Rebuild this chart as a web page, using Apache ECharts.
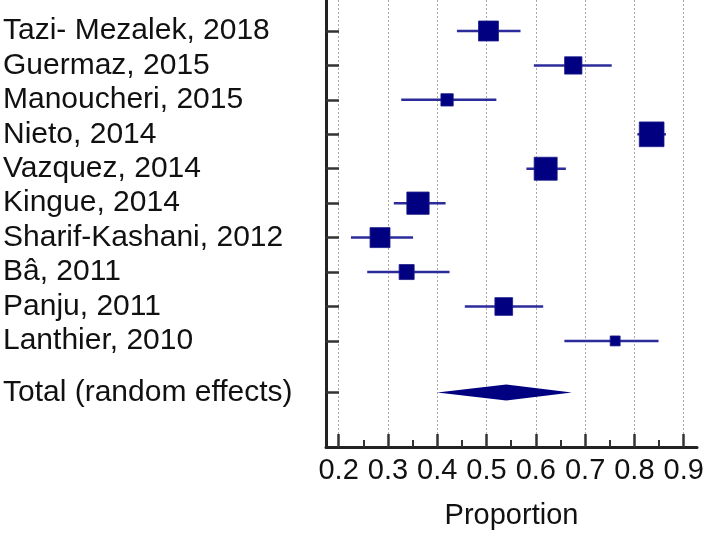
<!DOCTYPE html>
<html><head><meta charset="utf-8">
<script src="https://cdn.jsdelivr.net/npm/echarts@6/dist/echarts.min.js"></script>
<style>html,body{margin:0;padding:0;background:#fff}#c{width:709px;height:536px}</style>
</head><body><div id="c"></div>
<script>
const studies = ['Tazi- Mezalek, 2018','Guermaz, 2015','Manoucheri, 2015','Nieto, 2014','Vazquez, 2014','Kingue, 2014','Sharif-Kashani, 2012','Bâ, 2011','Panju, 2011','Lanthier, 2010'];
const proportion = [0.504, 0.676, 0.420, 0.835, 0.620, 0.361, 0.284, 0.338, 0.535, 0.761];
const ciLow  = [0.440, 0.596, 0.327, 0.806, 0.581, 0.312, 0.225, 0.258, 0.456, 0.658];
const ciHigh = [0.569, 0.754, 0.520, 0.864, 0.661, 0.417, 0.351, 0.425, 0.615, 0.849];
const weights = [11.3, 8.5, 4.3, 17.3, 15.0, 14.1, 11.3, 6.4, 8.9, 2.8];
const totalLabel = 'Total (random effects)';
const total = [0.540, 0.400, 0.673]; // estimate, low, high
const xTicks = [0.2,0.3,0.4,0.5,0.6,0.7,0.8,0.9];
const xMinorTicks = [0.25,0.35,0.45,0.55,0.65,0.75,0.85];
const xTitle = 'Proportion';

const rowPos = studies.map((s,i)=>i);
const totalPos = studies.length + 0.5;
const yLabelMap = {};
studies.forEach((s,i)=>{ yLabelMap[i] = s; });
yLabelMap[totalPos] = totalLabel;

const FONT = 'Liberation Sans, Arial, sans-serif';
const chart = echarts.init(document.getElementById('c'), null, {renderer:'canvas'});

const studyData = studies.map((s,i)=>[proportion[i], rowPos[i], ciLow[i], ciHigh[i], weights[i]]);

chart.setOption({
  animation:false,
  grid:{left:323, right:12, top:0, bottom:89, containLabel:false},
  xAxis:[{
    type:'value', min:0.1744, max:0.927, position:'bottom', z:10,
    name:xTitle, nameLocation:'middle', nameGap:54,
    nameTextStyle:{fontFamily:FONT, fontSize:29, color:'#111'},
    axisLine:{show:true, onZero:false, lineStyle:{color:'#222', width:3}},
    axisTick:{show:true, inside:true, length:13, customValues:xTicks, lineStyle:{color:'#333', width:2.5}},
    axisLabel:{show:true, customValues:xTicks, formatter:v=>Number(v).toFixed(1), margin:9, fontFamily:FONT, fontSize:29, color:'#111'},
    splitLine:{show:false}
  },{
    type:'value', min:0.1744, max:0.927, position:'bottom', z:10,
    axisLine:{show:false, onZero:false},
    axisTick:{show:true, inside:true, length:7, customValues:xMinorTicks, lineStyle:{color:'#333', width:2}},
    axisLabel:{show:false},
    splitLine:{show:false}
  }],
  yAxis:{
    type:'value', inverse:true, min:-0.9, max:12.08, z:10,
    axisLine:{show:true, onZero:false, lineStyle:{color:'#222', width:3}},
    axisTick:{show:true, inside:true, length:13, customValues:rowPos.concat([totalPos]), lineStyle:{color:'#333', width:2.5}},
    axisLabel:{show:true, customValues:rowPos.concat([totalPos]), formatter:v=>yLabelMap[v]||'', align:'left', margin:323, fontFamily:FONT, fontSize:30, color:'#111'},
    splitLine:{show:false}
  },
  series:[{
    type:'custom', xAxisIndex:0, yAxisIndex:0, z:1,
    data:[],
    renderItem:()=>null,
    markLine:{
      silent:true, symbol:['none','none'], label:{show:false},
      lineStyle:{color:'#a8a8a8', type:[2,2], width:1},
      data:xTicks.map(v=>({xAxis:v}))
    }
  },{
    type:'custom', xAxisIndex:0, yAxisIndex:0,
    data:studyData,
    renderItem:(params, api)=>{
      const y = api.value(1);
      const c = api.coord([api.value(0), y]);
      const l = api.coord([api.value(2), y]);
      const h = api.coord([api.value(3), y]);
      const s = 5.94*Math.sqrt(api.value(4));
      return {type:'group', children:[
        {type:'line', shape:{x1:l[0], y1:l[1], x2:h[0], y2:h[1]}, style:{stroke:'#2b2b9c', lineWidth:2.5}},
        {type:'rect', shape:{x:c[0]-s/2, y:c[1]-s/2, width:s, height:s}, style:{fill:'#000080', stroke:'#1a1a8a', lineWidth:0.8}}
      ]};
    },
    z:5
  },{
    type:'custom', xAxisIndex:0, yAxisIndex:0,
    data:[[total[0], totalPos, total[1], total[2]]],
    renderItem:(params, api)=>{
      const y = api.value(1);
      const c = api.coord([api.value(0), y]);
      const l = api.coord([api.value(2), y]);
      const h = api.coord([api.value(3), y]);
      const hh = 8;
      return {type:'polygon', shape:{points:[[l[0],c[1]],[c[0],c[1]-hh],[h[0],c[1]],[c[0],c[1]+hh]]}, style:{fill:'#000080'}};
    },
    z:5
  }]
});
</script></body></html>
